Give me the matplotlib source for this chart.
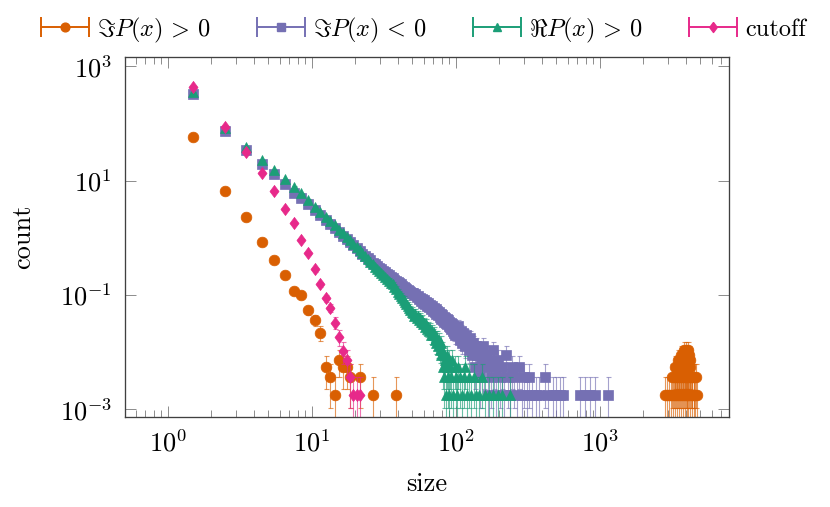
import numpy as np
import matplotlib
matplotlib.use('Agg')
import matplotlib.pyplot as plt
from matplotlib.colors import to_rgba
from matplotlib.container import ErrorbarContainer
from matplotlib.legend_handler import HandlerErrorbar

plt.rcParams['font.family'] = ['cmr10', 'DejaVu Serif']
plt.rcParams['mathtext.fontset'] = 'cm'
plt.rcParams['axes.formatter.use_mathtext'] = True
plt.rcParams['font.size'] = 19

unit = 0.0018  # weight of a single event

# Im P(x) > 0
imp_head = [58, 6.7, 2.3, 0.86, 0.41, 0.227, 0.116, 0.098, 0.055, 0.037, 0.022]  # sizes 1.5 ... 11.5
imp_tail_size = [12.5, 13.5, 14.5, 15.5, 16.5, 17.5, 18.5, 21.5, 26.5, 38.5]
imp_tail_n = [3, 2, 1, 4, 3, 3, 2, 2, 1, 1]
# the cluster of very large sizes
imp_big_size = [2850, 2950, 3050, 3150, 3250, 3350, 3450, 3560, 3670, 3780, 3890, 4010, 4120,
                4240, 4360, 4480, 4600, 4730,
                3170, 3285, 3395, 3505, 3615, 3725, 3835, 3945, 4055, 4165, 4285, 4405, 4525, 4640,
                3330, 3440, 3552, 3662, 3772, 3882, 3992, 4102, 4225,
                3500, 3620, 3742, 3862, 3982, 4104, 4228,
                3680, 3802, 3922, 4042, 4150,
                3850, 3975, 4098]
imp_big_n = [1] * 18 + [2] * 14 + [3] * 9 + [4] * 7 + [5] * 5 + [6] * 3

# Im P(x) < 0
imn_head = [323, 75, 35, 20, 12.9, 8.7, 6.2, 4.9, 3.87, 3.07, 2.5, 2.05, 1.72, 1.46, 1.25, 1.08,
            0.94, 0.83, 0.74, 0.66, 0.59, 0.53, 0.48,
            0.44, 0.41, 0.37, 0.35, 0.32, 0.30, 0.28, 0.265, 0.25, 0.235, 0.22, 0.21, 0.197,
            0.185, 0.178, 0.168, 0.16, 0.153, 0.146, 0.139, 0.134, 0.128, 0.123, 0.118, 0.113,
            0.109]  # sizes 1.5 ... 49.5
imn_mid_n = [60, 55, 58, 51, 54, 47, 50, 44, 48, 41, 45, 39, 42, 36, 40, 34, 37, 32, 35, 29,
             33, 28, 31, 26, 29, 25, 28, 23, 26, 21, 25, 20, 23, 19, 22, 18, 21, 17, 20, 16,
             19, 15, 18, 14, 17, 13, 16, 12, 15, 11]  # sizes 50.5 ... 99.5
imn_tail_size = [100.5, 102.5, 104.5, 106.5, 108.5, 110.5, 112.5, 114.5, 116.5, 118.5,
                 120.5, 123.5, 126.5, 129.5, 132.5, 135.5, 138.5, 141.5, 144.5, 147.5,
                 150.5, 154.5, 158.5, 162.5, 166.5, 170.5, 175.5, 180.5, 185.5, 190.5,
                 196.5, 202.5, 208.5, 215.5, 222.5, 230.5, 238.5, 246.5, 255.5, 265.5,
                 275.5, 286.5, 298.5, 310.5, 325.5, 340.5, 360.5, 380.5, 417.5, 440.5,
                 470.5, 500.5, 530.5, 560.5, 735.5, 790.5, 850.5, 920.5, 1150.5]
imn_tail_n = [14, 11, 16, 9, 13, 8, 12, 10, 7, 11,
              9, 6, 10, 5, 8, 3, 7, 5, 6, 2,
              4, 7, 3, 5, 1, 4, 2, 6, 3, 1,
              4, 2, 3, 1, 5, 2, 1, 3, 2, 1,
              3, 1, 2, 1, 2, 1, 1, 1, 2, 1,
              1, 1, 1, 1, 1, 1, 1, 1, 1]

# Re P(x) > 0
rep_head = [350, 82, 39, 23, 15.4, 10.6, 7.85, 6.0, 4.6, 3.5, 2.87, 2.34, 1.95, 1.65, 1.40, 1.2,
            1.04, 0.9, 0.79, 0.69, 0.61, 0.54, 0.48, 0.43, 0.385, 0.345, 0.313, 0.285, 0.261,
            0.241, 0.222, 0.205, 0.19, 0.177, 0.165, 0.154, 0.139, 0.127, 0.115, 0.106, 0.097,
            0.089, 0.082, 0.076, 0.070, 0.065, 0.060, 0.055, 0.051]  # sizes 1.5 ... 49.5
rep_mid_n = [27, 24, 26, 22, 24, 20, 22, 19, 20, 17, 18, 15, 17, 14, 15, 13, 14, 11, 13, 11,
             12, 9, 10, 8, 10, 7, 9, 6, 8, 5]  # sizes 50.5 ... 79.5
rep_tail_size = [80.5, 81.5, 82.5, 83.5, 84.5, 85.5, 86.5, 87.5, 88.5, 89.5, 90.5, 91.5, 92.5,
                 94.5, 96.5, 98.5, 100.5, 102.5, 104.5, 107.5, 110.5, 113.5, 116.5,
                 120.5, 124.5, 128.5, 133.5, 138.5, 145.5, 152.5, 160.5, 170.5, 180.5,
                 195.5, 210.5, 237.5]
rep_tail_n = [6, 3, 5, 2, 4, 1, 5, 3, 2, 4, 1, 3, 2,
              4, 1, 3, 2, 1, 3, 2, 1, 2, 3,
              1, 2, 1, 2, 1, 1, 2, 1, 1, 1,
              1, 1, 1]

# cutoff
cut_head = [430, 88, 32, 13.5, 6.6, 3.2, 1.8, 0.92, 0.54, 0.28, 0.155, 0.088, 0.06, 0.033,
            0.0185, 0.0105]  # sizes 1.5 ... 16.5
cut_tail_size = [17.5, 18.5, 19.5, 20.5, 21.5]
cut_tail_n = [4, 2, 1, 1, 1]

labels = [r'$\Im P(x)\,>\,0$', r'$\Im P(x)\,<\,0$', r'$\Re P(x)\,>\,0$', 'cutoff']
colors = ['#d95f02', '#7570b3', '#1b9e77', '#e7298a']

xtick_vals = [1e0, 1e1, 1e2, 1e3]
ytick_vals = [1e-3, 1e-1, 1e1, 1e3]
ytick_labels = [r'$10^{-3}$', r'$10^{-1}$', r'$10^{1}$', r'$10^{3}$']


def build(head, mid_n, tail_size, tail_n):
    x = list(np.arange(len(head)) + 1.5)
    y = list(head)
    x += list(np.arange(len(mid_n)) + len(head) + 1.5)
    y += [n * unit for n in mid_n]
    x += list(tail_size)
    y += [n * unit for n in tail_n]
    return np.array(x), np.array(y)


series = [
    build(imp_head, [], imp_tail_size + imp_big_size, imp_tail_n + imp_big_n),
    build(imn_head, imn_mid_n, imn_tail_size, imn_tail_n),
    build(rep_head, rep_mid_n, rep_tail_size, rep_tail_n),
    build(cut_head, [], cut_tail_size, cut_tail_n),
]

diamond = [(0, 1), (0.75, 0), (0, -1), (-0.75, 0), (0, 1)]
markers = ['o', 's', '^', diamond]
sizes = [7.7, 7.4, 7.7, 8.7]
leg_sizes = [6.3, 6.0, 6.4, 7.2]

fig = plt.figure(figsize=(8.3, 5.07), dpi=100)
ax = fig.add_axes([0.1506, 0.1781, 0.7277, 0.7089])
ax.set_xscale('log')
ax.set_yscale('log')

proxies = []
for (x, y), c, m, s, ls_, lab in zip(series, colors, markers, sizes, leg_sizes, labels):
    err = np.sqrt(y * unit)
    lo = np.where(err >= y, y * 0.999, err)
    ax.errorbar(x, y, yerr=[lo, err], fmt='none', ecolor=to_rgba(c, 0.65),
                elinewidth=0.8, capsize=1.8, capthick=0.8)
    ax.plot(x, y, ls='none', marker=m, ms=s, color=c, mec=c, mew=0.5)
    p = ax.errorbar([np.nan], [np.nan], xerr=[1], fmt='', ls='none', marker=m, ms=ls_,
                    color=c, mec=c, elinewidth=1.4, capsize=7.5, capthick=1.4, label=lab)
    proxies.append(p)

ax.set_xlim(0.506, 7900)
ax.set_ylim(10 ** -3.13, 10 ** 3.16)
ax.set_xticks(xtick_vals)
ax.set_yticks(ytick_vals)
ax.set_yticklabels(ytick_labels)
ax.yaxis.set_minor_locator(matplotlib.ticker.NullLocator())
ax.tick_params(which='both', direction='in', top=True, right=True, color='#8c8c8c', width=0.7, pad=9.5)
ax.tick_params(which='major', length=8)
ax.tick_params(which='minor', length=5.2)
for sp in ax.spines.values():
    sp.set_color('#404040')
    sp.set_linewidth(0.95)

ax.set_xlabel('size')
ax.set_ylabel('count')
ax.xaxis.set_label_coords(0.5, -0.154)
ax.yaxis.set_label_coords(-0.149, 0.5)

fig.legend(handles=proxies, loc='center left', bbox_to_anchor=(41 / 830, 1 - 30 / 507),
           ncol=4, frameon=False, borderpad=0, borderaxespad=0, numpoints=1,
           fontsize=17.5, handlelength=1.975, handletextpad=0.34, columnspacing=1.89,
           handler_map={ErrorbarContainer: HandlerErrorbar(xerr_size=0.99)})

fig.savefig('out.png', dpi=100)
